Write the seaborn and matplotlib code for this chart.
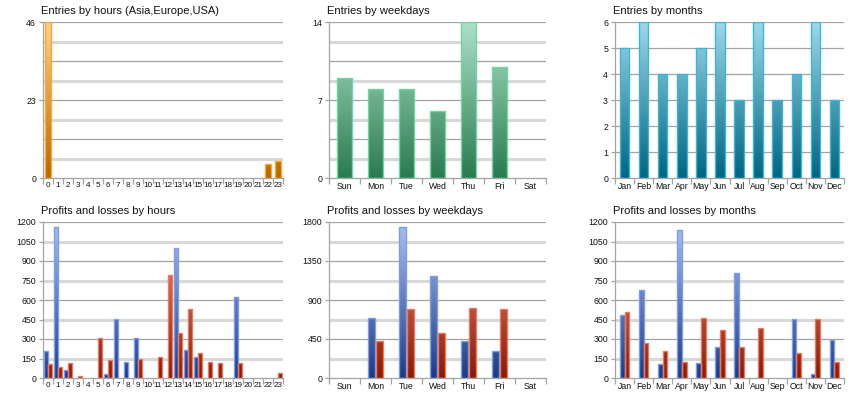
import numpy as np
import pandas as pd
import matplotlib
matplotlib.use("Agg")
import matplotlib.pyplot as plt
from matplotlib.colors import LinearSegmentedColormap
from matplotlib.ticker import FixedLocator
import seaborn as sns

# ---------------- data ----------------
hours = [str(h) for h in range(24)]
weekdays = ["Sun", "Mon", "Tue", "Wed", "Thu", "Fri", "Sat"]
months = ["Jan", "Feb", "Mar", "Apr", "May", "Jun", "Jul", "Aug", "Sep", "Oct", "Nov", "Dec"]

entries_hours = [46, 0, 0, 0, 0, 0, 0, 0, 0, 0, 0, 0, 0, 0, 0, 0, 0, 0, 0, 0, 0, 0, 4, 5]
entries_weekdays = [9, 8, 8, 6, 14, 10, 0]
entries_months = [5, 6, 4, 4, 5, 6, 3, 6, 3, 4, 6, 3]

profit_hours = [205, 1165, 65, 0, 0, 0, 28, 452, 121, 308, 0, 0,
                0, 1000, 213, 159, 0, 0, 0, 624, 0, 0, 0, 0]
loss_hours = [105, 82, 113, 15, 0, 308, 141, 0, 0, 146, 0, 159,
              791, 344, 529, 190, 123, 118, 0, 118, 0, 0, 0, 36]

profit_weekdays = [0, 690, 1742, 1179, 424, 316, 0]
loss_weekdays = [0, 424, 798, 524, 802, 798, 0]

profit_months = [488, 676, 105, 1138, 113, 236, 810, 0, 0, 457, 28, 293]
loss_months = [504, 267, 206, 126, 463, 368, 242, 388, 0, 195, 452, 121]

titles = ["Entries by hours (Asia,Europe,USA)", "Entries by weekdays", "Entries by months",
          "Profits and losses by hours", "Profits and losses by weekdays", "Profits and losses by months"]

# ---------------- style ----------------
sns.set_theme(style="white")
plt.rcParams["font.family"] = ["Liberation Sans", "DejaVu Sans"]

DARK_GRID = "#A4A4A4"
LIGHT_GRID = "#D8D8D8"
ORANGE = ("#FFD38F", "#B56800", "#F6A935")
GREEN = ("#AEE2C8", "#2A7A50", "#72D4A2")
TEAL = ("#9ED9EA", "#006580", "#3DB5D8")
BLUE = ("#AAC2F2", "#1E3A84", "#7D9DE8")
RED = ("#F29580", "#881A06", "#E97A62")

fig = plt.figure(figsize=(8.6, 4.0), dpi=100)
fig.patch.set_facecolor("white")

W, H = 860, 400
def add_ax(x0, x1, y0, y1):
    return fig.add_axes([x0 / W, 1 - y1 / H, (x1 - x0) / W, (y1 - y0) / H])

axes = [
    add_ax(43, 283, 22, 178), add_ax(329, 546, 22, 178), add_ax(615, 844, 22, 178),
    add_ax(43, 283, 222, 378), add_ax(329, 546, 222, 378), add_ax(615, 844, 222, 378),
]

grad = np.linspace(0, 1, 256).reshape(-1, 1)

def gradient_bars(ax, container, colors, ymax):
    top, bottom, edge = colors
    cmap = LinearSegmentedColormap.from_list("g", [bottom, top])
    for p in container.patches:
        h = p.get_height()
        if not np.isfinite(h) or h <= 0:
            p.set_visible(False)
            continue
        x0, w = p.get_x(), p.get_width()
        im = ax.imshow(grad, extent=(x0, x0 + w, 0, ymax), origin="lower", cmap=cmap,
                       aspect="auto", zorder=2, interpolation="bilinear")
        im.set_clip_path(p)
        p.set_facecolor("none")
        p.set_edgecolor(edge)
        p.set_linewidth(1.0)
        p.set_zorder(3)

def style_axis(ax, ncat, ymax, labels_y, dark_step, light=True, xsize=6.3):
    ax.set_xlim(-0.5, ncat - 0.5)
    ax.set_ylim(0, ymax)
    for s in ["top", "right"]:
        ax.spines[s].set_visible(False)
    for s in ["left", "bottom"]:
        ax.spines[s].set_color(DARK_GRID)
        ax.spines[s].set_linewidth(0.9)
    y = dark_step
    while y <= ymax + 1e-9:
        ax.axhline(y, color=DARK_GRID, lw=0.9, zorder=0.6)
        y += dark_step
    if light:
        y = dark_step / 2
        while y < ymax:
            ax.axhline(y, color=LIGHT_GRID, lw=2.2, zorder=0.5)
            y += dark_step
    ax.set_yticks(labels_y)
    ax.set_yticklabels([str(int(v)) for v in labels_y])
    ax.xaxis.set_minor_locator(FixedLocator(np.arange(-0.5, ncat, 1.0)))
    ax.tick_params(axis="x", which="major", length=0, pad=3, labelsize=xsize, colors="#111111")
    ax.tick_params(axis="x", which="minor", length=4, width=0.9, color=DARK_GRID, bottom=True)
    ax.tick_params(axis="y", which="major", length=3, width=0.9, color=DARK_GRID, left=True,
                   pad=2, labelsize=6.3, labelcolor="#111111")
    ax.set_xlabel("")
    ax.set_ylabel("")

# ---- top row: entries ----
single = [
    (axes[0], hours, entries_hours, ORANGE, 46, [0, 23, 46], 11.5, True, 0.62, 5.9),
    (axes[1], weekdays, entries_weekdays, GREEN, 14, [0, 7, 14], 3.5, True, 0.5, 6.3),
    (axes[2], months, entries_months, TEAL, 6, list(range(7)), 1, False, 0.5, 6.3),
]
for ax, cats, vals, colors, ymax, ylabs, step, light, width, xs in single:
    df = pd.DataFrame({"cat": cats, "value": vals})
    sns.barplot(data=df, x="cat", y="value", order=cats, ax=ax, width=width,
                color=colors[1], errorbar=None, saturation=1)
    gradient_bars(ax, ax.containers[0], colors, ymax)
    style_axis(ax, len(cats), ymax, ylabs, step, light, xs)

# ---- bottom row: profits and losses ----
double = [
    (axes[3], hours, profit_hours, loss_hours, 1200, list(range(0, 1201, 150)), 300, 0.88, 0.0, 5.9),
    (axes[4], weekdays, profit_weekdays, loss_weekdays, 1800, [0, 450, 900, 1350, 1800], 450, 0.5, 0.08, 6.3),
    (axes[5], months, profit_months, loss_months, 1200, list(range(0, 1201, 150)), 300, 0.5, 0.0, 6.3),
]
for ax, cats, prof, loss, ymax, ylabs, step, width, gap, xs in double:
    df = pd.DataFrame({
        "cat": cats + cats,
        "kind": ["Profit"] * len(cats) + ["Loss"] * len(cats),
        "value": prof + loss,
    })
    sns.barplot(data=df, x="cat", y="value", hue="kind", order=cats, hue_order=["Profit", "Loss"],
                palette=[BLUE[1], RED[1]], ax=ax, width=width, gap=gap, errorbar=None,
                saturation=1, legend=False)
    gradient_bars(ax, ax.containers[0], BLUE, ymax)
    gradient_bars(ax, ax.containers[1], RED, ymax)
    style_axis(ax, len(cats), ymax, ylabs, step, True, xs)

# titles
for ax, t in zip(axes, titles):
    ax.text(-0.008, 1.04, t, transform=ax.transAxes, ha="left", va="bottom",
            fontsize=8.0, color="#111111")

fig.savefig("out.png", dpi=100, facecolor="white")
